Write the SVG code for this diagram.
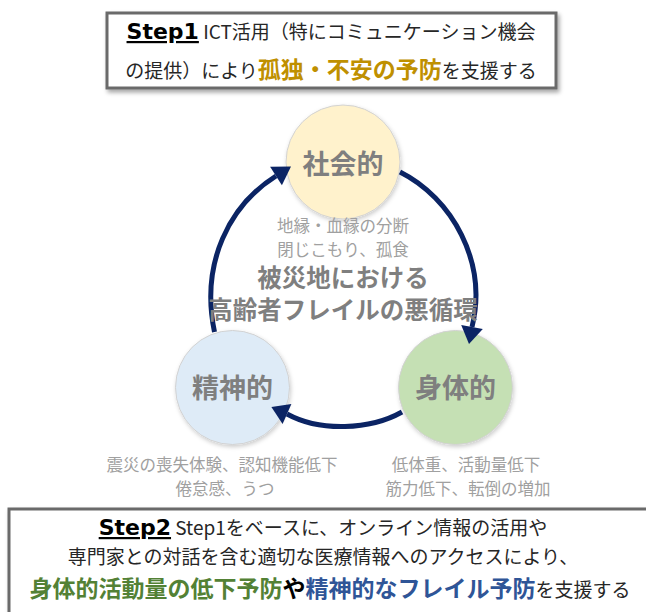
<svg xmlns="http://www.w3.org/2000/svg" width="646" height="612" viewBox="0 0 646 612">
<style>
.jp{font-family:"Noto Sans CJK JP","Noto Sans",sans-serif;}
.box{fill:#ffffff;stroke:#6b6b6b;stroke-width:3;}
.reg{font-size:19px;fill:#262626;}
.step{font-family:"DejaVu Sans",sans-serif;font-weight:bold;font-size:22px;fill:#000;text-decoration:underline;}
.node-label{font-size:27px;font-weight:bold;fill:#7f7f7f;}
.sub{font-size:16.5px;fill:#a0a0a0;}
.center{font-size:24.5px;font-weight:bold;fill:#7f7f7f;}
.arc{fill:none;stroke:#0b2464;stroke-width:5;}
.head{fill:#0b2464;}
.circ{stroke:#d2d2d2;stroke-width:1;}
</style>
<defs>
<filter id="sh" x="-20%" y="-20%" width="140%" height="150%">
<feDropShadow dx="2" dy="3" stdDeviation="2" flood-color="#000" flood-opacity="0.35"/>
</filter>
<filter id="csh" x="-20%" y="-20%" width="140%" height="140%">
<feDropShadow dx="1" dy="2" stdDeviation="2" flood-color="#000" flood-opacity="0.2"/>
</filter>
</defs>
<rect width="646" height="612" fill="#ffffff"/>

<g id="step1-box">
<rect class="box" x="107" y="13" width="449" height="75" filter="url(#sh)"/>
<text class="jp" x="331" y="39" text-anchor="middle"><tspan class="step">Step1</tspan><tspan class="reg"> ICT活用（特にコミュニケーション機会</tspan></text>
<text class="jp" x="331" y="78" text-anchor="middle"><tspan class="reg">の提供）により</tspan><tspan font-size="23" font-weight="bold" fill="#bf9000">孤独・不安の予防</tspan><tspan class="reg">を支援する</tspan></text>
</g>

<g id="node-social">
<circle class="circ" cx="343" cy="162" r="57" fill="#fff2cc" filter="url(#csh)"/>
<text class="jp node-label" x="343" y="174" text-anchor="middle">社会的</text>
</g>
<g id="node-physical">
<circle class="circ" cx="455.5" cy="387.5" r="57" fill="#c5e0b4" filter="url(#csh)"/>
<text class="jp node-label" x="455.5" y="398" text-anchor="middle">身体的</text>
</g>
<g id="node-mental">
<circle class="circ" cx="232.5" cy="387.5" r="57" fill="#deebf7" filter="url(#csh)"/>
<text class="jp node-label" x="232.5" y="398" text-anchor="middle">精神的</text>
</g>

<g id="connectors">
<path class="arc" d="M400,172 C452,198 488,262 472,327"/>
<polygon class="head" points="482.8,328.9 469,344 461.2,325.1"/>
<path class="arc" d="M402,412 C370,430 320,432 287,414"/>
<polygon class="head" points="291.4,403.9 271.4,407.1 282.6,424.1"/>
<path class="arc" d="M214.5,332 C200,262 230,205 276,176"/>
<polygon class="head" points="281.9,185.3 291,166.5 270.1,166.7"/>
</g>

<g id="center-text">
<text class="jp sub" x="343" y="232" text-anchor="middle">地縁・血縁の分断</text>
<text class="jp sub" x="343" y="256" text-anchor="middle">閉じこもり、孤食</text>
<text class="jp center" x="343" y="287" text-anchor="middle">被災地における</text>
<text class="jp center" x="343" y="319" text-anchor="middle">高齢者フレイルの悪循環</text>
</g>

<g id="mental-notes">
<text class="jp sub" x="222" y="471" text-anchor="middle">震災の喪失体験、認知機能低下</text>
<text class="jp sub" x="225" y="495" text-anchor="middle">倦怠感、うつ</text>
</g>
<g id="physical-notes">
<text class="jp sub" x="466" y="471" text-anchor="middle">低体重、活動量低下</text>
<text class="jp sub" x="468" y="495" text-anchor="middle">筋力低下、転倒の増加</text>
</g>

<g id="step2-box">
<rect class="box" x="9" y="509" width="660" height="120" filter="url(#sh)"/>
<text class="jp" x="323" y="535" text-anchor="middle"><tspan class="step">Step2</tspan><tspan class="reg"> Step1をベースに、オンライン情報の活用や</tspan></text>
<text class="jp reg" x="323" y="564" text-anchor="middle">専門家との対話を含む適切な医療情報へのアクセスにより、</text>
<text class="jp" x="330" y="597" text-anchor="middle"><tspan font-size="23" font-weight="bold" fill="#538135">身体的活動量の低下予防</tspan><tspan font-size="23" font-weight="bold" fill="#000">や</tspan><tspan font-size="23" font-weight="bold" fill="#2f5597">精神的なフレイル予防</tspan><tspan class="reg">を支援する</tspan></text>
</g>
</svg>
